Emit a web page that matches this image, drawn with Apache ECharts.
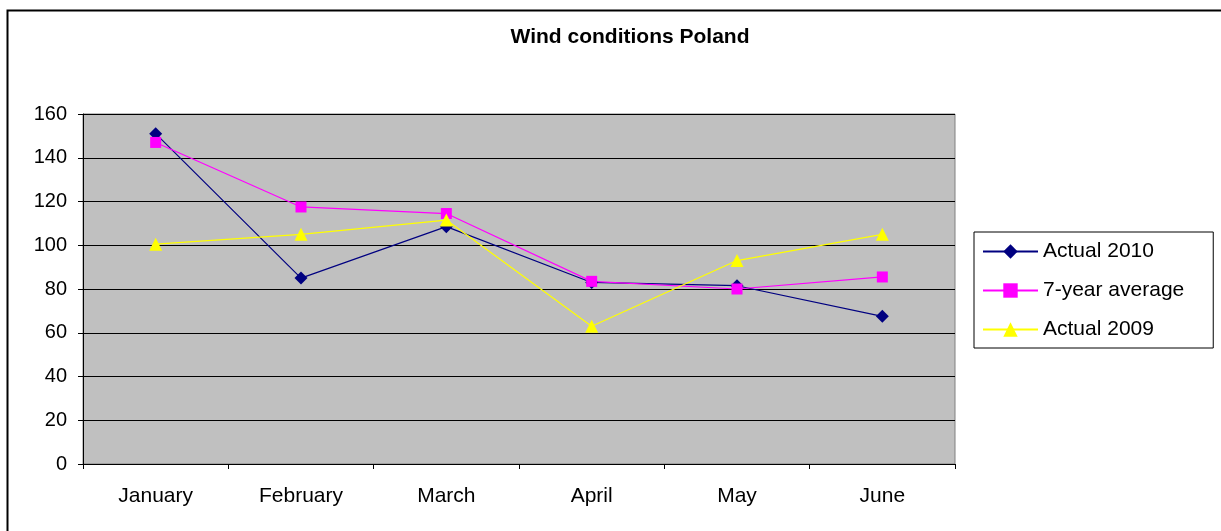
<!DOCTYPE html>
<html>
<head>
<meta charset="utf-8">
<script src="https://cdn.jsdelivr.net/npm/echarts@6/dist/echarts.min.js"></script>
<style>
  html, body { margin: 0; padding: 0; background: #fff; }
  #chart { width: 1221px; height: 531px; }
</style>
</head>
<body>
<div id="chart"></div>
<script>
// months on the x axis
var months = ['January', 'February', 'March', 'April', 'May', 'June'];
// series values
var actual2010 = [151, 85, 108.5, 83, 81.5, 67.5];
var avg7year = [147, 117.5, 114.5, 83.5, 80, 85.5];
var actual2009 = [100.5, 105, 111.5, 63, 93, 105];

var font = 'Liberation Sans, Arial, sans-serif';

function lineSeries(name, data, color, symbol, size) {
  return {
    name: name,
    type: 'line',
    data: data,
    symbol: symbol,
    symbolSize: size,
    lineStyle: { color: color, width: 1.2 },
    itemStyle: { color: color },
    emphasis: { disabled: true }
  };
}

var chart = echarts.init(document.getElementById('chart'));
chart.setOption({
  animation: false,
  backgroundColor: '#fff',
  graphic: [{
    type: 'rect',
    shape: { x: 7.5, y: 10.5, width: 1300, height: 600 },
    style: { fill: 'none', stroke: '#000', lineWidth: 2 },
    z: -1
  }],
  title: {
    text: 'Wind conditions Poland',
    left: 625,
    textAlign: 'center',
    top: 20,
    textStyle: { fontFamily: font, fontSize: 21, lineHeight: 24, fontWeight: 'bold', color: '#000' }
  },
  legend: {
    orient: 'vertical',
    left: 974,
    top: 232,
    padding: [9, 29, 8, 8],
    itemGap: 18,
    itemWidth: 55,
    itemHeight: 18,
    borderColor: '#000',
    borderWidth: 1,
    backgroundColor: '#fff',
    textStyle: { fontFamily: font, fontSize: 21, lineHeight: 20, color: '#000' },
    data: ['Actual 2010', '7-year average', 'Actual 2009']
  },
  grid: {
    left: 83,
    right: 266,
    top: 114,
    bottom: 67,
    show: true,
    backgroundColor: '#C0C0C0',
    borderColor: '#808080',
    borderWidth: 1
  },
  xAxis: {
    type: 'category',
    data: months,
    axisLine: { lineStyle: { color: '#000', width: 1 } },
    axisTick: { show: true, length: 5, lineStyle: { color: '#000' } },
    axisLabel: { fontFamily: font, fontSize: 21, color: '#000', margin: 22 },
    splitLine: { show: false }
  },
  yAxis: {
    type: 'value',
    min: 0,
    max: 160,
    interval: 20,
    axisLine: { show: true, lineStyle: { color: '#000', width: 1 } },
    axisTick: { show: true, length: 5, lineStyle: { color: '#000' } },
    axisLabel: { fontFamily: font, fontSize: 20, color: '#000', margin: 16 },
    splitLine: { show: true, lineStyle: { color: '#000', width: 1 } }
  },
  series: [
    lineSeries('Actual 2010', actual2010, '#000080', 'diamond', 13),
    lineSeries('7-year average', avg7year, '#FF00FF', 'rect', 11),
    lineSeries('Actual 2009', actual2009, '#FFFF00', 'triangle', 13)
  ]
});
</script>
</body>
</html>
